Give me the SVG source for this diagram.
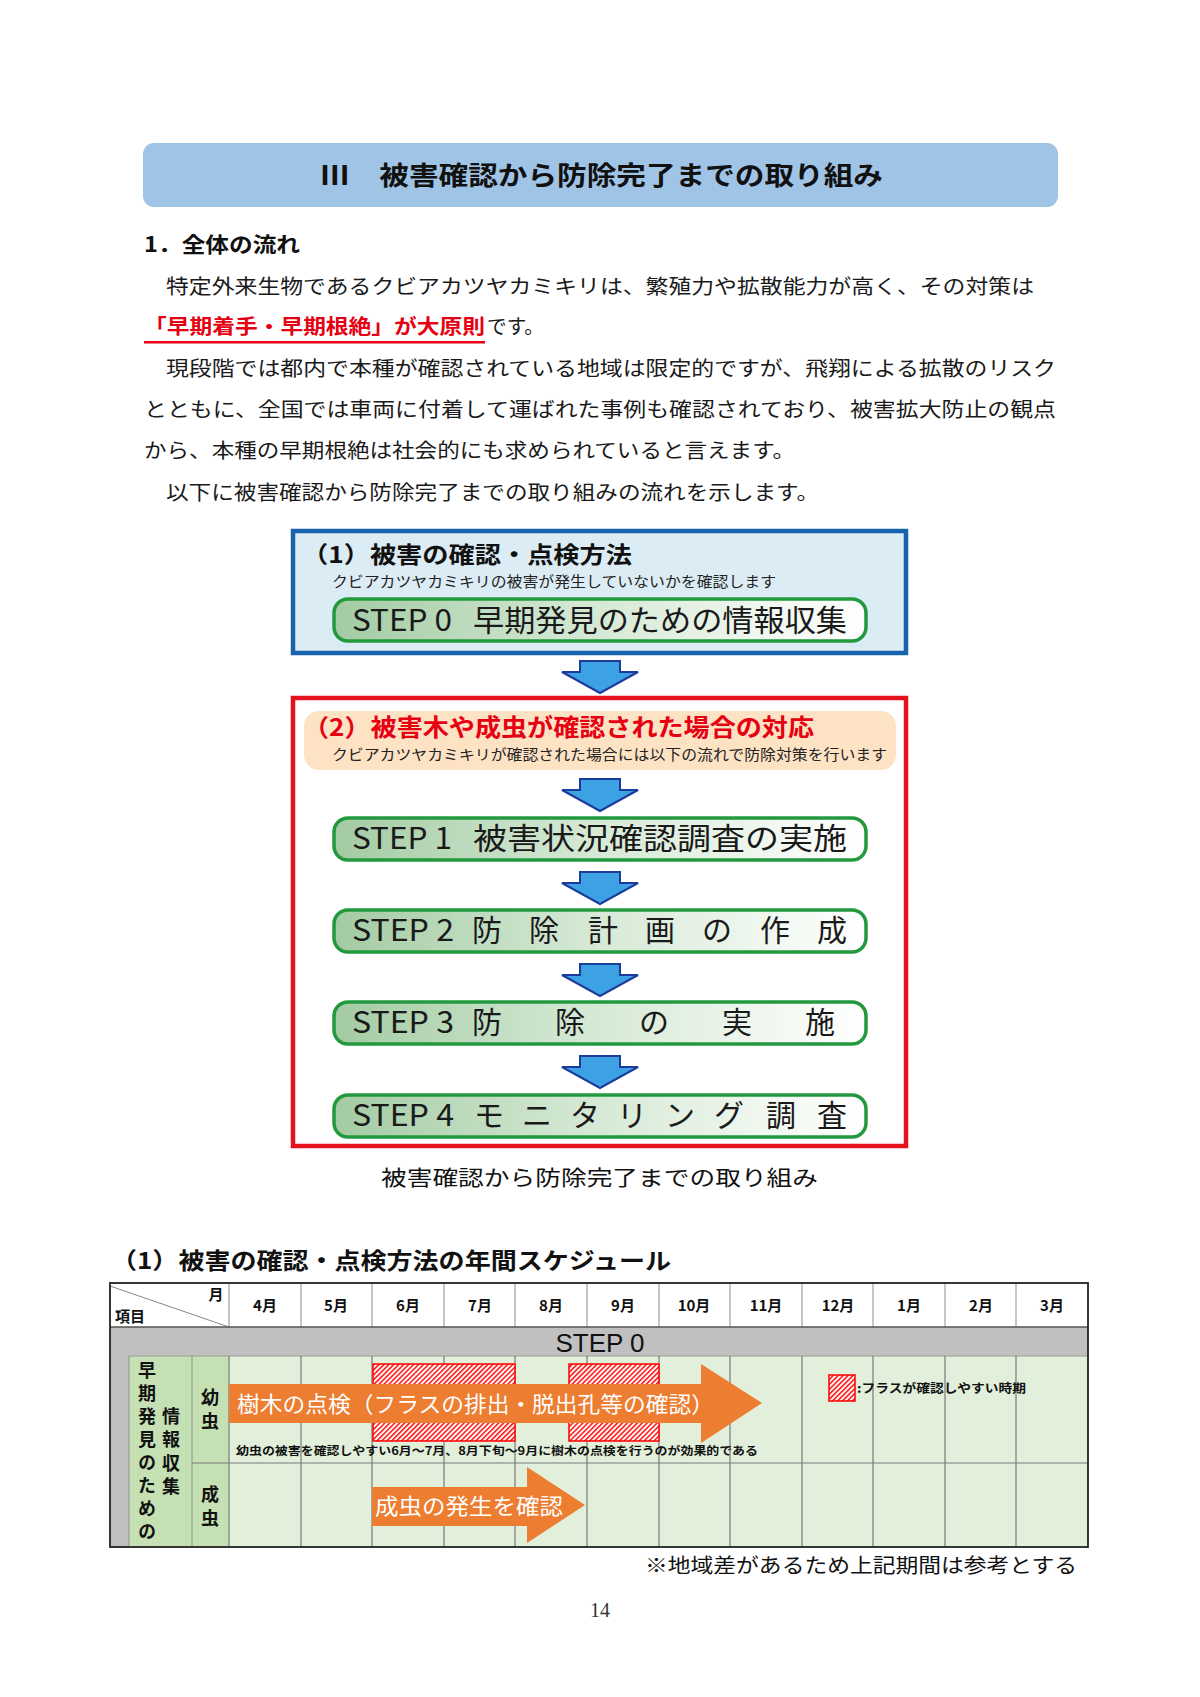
<svg xmlns="http://www.w3.org/2000/svg" width="1200" height="1697" viewBox="0 0 1200 1697">
<style>
.jp{font-family:"Noto Sans CJK JP","Noto Sans",sans-serif;}
.b{font-weight:bold;}
.body{font-size:20px;fill:#1a1a1a;}
.stepbox{fill:url(#stepgrad);stroke:#23993f;stroke-width:3.5;}
.steptxt{font-size:30px;fill:#1a1a1a;}
.barrow{fill:#3da2e4;stroke:#1c3c9c;stroke-width:2;stroke-linejoin:miter;}
.mon{font-size:15px;font-weight:bold;fill:#111;text-anchor:middle;}
.vt{font-size:18px;font-weight:bold;fill:#111;writing-mode:vertical-rl;}
.hgrid{stroke:#a0a0a0;stroke-width:1.2;}
.bgrid{stroke:#7a7a7a;stroke-width:1.2;}
.hatch{fill:url(#hatch);stroke:#ff0000;stroke-width:1.5;}
.orange{fill:#ed7d31;}
</style>
<defs>
<linearGradient id="stepgrad" x1="0" y1="0" x2="1" y2="0">
<stop offset="0" stop-color="#a3cba3"/>
<stop offset="0.45" stop-color="#d2e7d2"/>
<stop offset="0.85" stop-color="#f3f9f3"/>
<stop offset="1" stop-color="#ffffff"/>
</linearGradient>
<pattern id="hatch" patternUnits="userSpaceOnUse" width="3.5" height="3.5" patternTransform="rotate(45)">
<rect width="3.5" height="3.5" fill="#ffffff"/>
<rect width="1.6" height="3.5" fill="#ff1a1a"/>
</pattern>
<polygon id="darrow" class="barrow" points="-20,0 20,0 20,11 38,11 0,32 -38,11 -20,11"/>
</defs>
<rect width="1200" height="1697" fill="#ffffff"/>

<g id="banner">
<rect x="143" y="143" width="915" height="64" rx="11" fill="#a0c4e6"/>
<text class="jp b" x="320" y="185" font-size="26" fill="#111" textLength="563" lengthAdjust="spacingAndGlyphs">Ⅲ　被害確認から防除完了までの取り組み</text>
</g>

<g id="intro">
<text class="jp b" x="144" y="252" font-size="21" fill="#111" textLength="156" lengthAdjust="spacingAndGlyphs">1．全体の流れ</text>
<text class="jp body" x="166" y="294" textLength="868" lengthAdjust="spacingAndGlyphs">特定外来生物であるクビアカツヤカミキリは、繁殖力や拡散能力が高く、その対策は</text>
<text class="jp b" x="144" y="334" font-size="20" fill="#e60012" textLength="341" lengthAdjust="spacingAndGlyphs">「早期着手・早期根絶」が大原則</text>
<text class="jp body" x="487" y="334" textLength="57" lengthAdjust="spacingAndGlyphs">です。</text>
<rect x="144" y="341" width="341" height="2.5" fill="#e60012"/>
<text class="jp body" x="166" y="376" textLength="890" lengthAdjust="spacingAndGlyphs">現段階では都内で本種が確認されている地域は限定的ですが、飛翔による拡散のリスク</text>
<text class="jp body" x="144" y="417" textLength="912" lengthAdjust="spacingAndGlyphs">とともに、全国では車両に付着して運ばれた事例も確認されており、被害拡大防止の観点</text>
<text class="jp body" x="144" y="458" textLength="651" lengthAdjust="spacingAndGlyphs">から、本種の早期根絶は社会的にも求められていると言えます。</text>
<text class="jp body" x="166" y="500" textLength="653" lengthAdjust="spacingAndGlyphs">以下に被害確認から防除完了までの取り組みの流れを示します。</text>
</g>

<g id="box1">
<rect x="293" y="531" width="613" height="122" fill="#dcecf5" stroke="#1763ad" stroke-width="4.5"/>
<text class="jp b" x="302" y="563" font-size="23" fill="#111" textLength="330" lengthAdjust="spacingAndGlyphs">（1）被害の確認・点検方法</text>
<text class="jp" x="332" y="587" font-size="14.5" fill="#222" textLength="444" lengthAdjust="spacingAndGlyphs">クビアカツヤカミキリの被害が発生していないかを確認します</text>
</g>
<g id="step0">
<rect class="stepbox" x="334" y="599" width="532" height="42" rx="14"/>
<text class="jp steptxt" x="352" y="631" textLength="100" lengthAdjust="spacingAndGlyphs">STEP 0</text>
<text class="jp steptxt" x="473" y="631" textLength="374" lengthAdjust="spacingAndGlyphs">早期発見のための情報収集</text>
</g>

<g id="box2">
<rect x="293" y="698" width="613" height="448" fill="#ffffff" stroke="#e3121d" stroke-width="4.5"/>
<rect x="304" y="711" width="592" height="59" rx="15" fill="#fde2c4"/>
<text class="jp b" x="303" y="736" font-size="24" fill="#e60012" textLength="511" lengthAdjust="spacingAndGlyphs">（2）被害木や成虫が確認された場合の対応</text>
<text class="jp" x="332" y="760" font-size="14.5" fill="#222" textLength="555" lengthAdjust="spacingAndGlyphs">クビアカツヤカミキリが確認された場合には以下の流れで防除対策を行います</text>
</g>
<g id="step1">
<rect class="stepbox" x="334" y="818" width="532" height="42" rx="14"/>
<text class="jp steptxt" x="352" y="849" textLength="100" lengthAdjust="spacingAndGlyphs">STEP 1</text>
<text class="jp steptxt" x="473" y="849" textLength="374" lengthAdjust="spacingAndGlyphs">被害状況確認調査の実施</text>
</g>
<g id="step2">
<rect class="stepbox" x="334" y="910" width="532" height="42" rx="14"/>
<text class="jp steptxt" x="352" y="941" textLength="102" lengthAdjust="spacingAndGlyphs">STEP 2</text>
<text class="jp steptxt" x="487 544 603 660 717 775 832" y="941" text-anchor="middle">防除計画の作成</text>
</g>
<g id="step3">
<rect class="stepbox" x="334" y="1002" width="532" height="42" rx="14"/>
<text class="jp steptxt" x="352" y="1033" textLength="102" lengthAdjust="spacingAndGlyphs">STEP 3</text>
<text class="jp steptxt" x="487 570 654 737 820" y="1033" text-anchor="middle">防除の実施</text>
</g>
<g id="step4">
<rect class="stepbox" x="334" y="1095" width="532" height="42" rx="14"/>
<text class="jp steptxt" x="352" y="1126" textLength="102" lengthAdjust="spacingAndGlyphs">STEP 4</text>
<text class="jp steptxt" x="489 537 585 632 680 729 781 832" y="1126" text-anchor="middle">モニタリング調査</text>
</g>

<g id="connectors">
<use href="#darrow" x="600" y="661"/>
<use href="#darrow" x="600" y="779"/>
<use href="#darrow" x="600" y="872"/>
<use href="#darrow" x="600" y="964"/>
<use href="#darrow" x="600" y="1056"/>
</g>

<text class="jp" x="381" y="1185" font-size="21" fill="#111" textLength="437" lengthAdjust="spacingAndGlyphs">被害確認から防除完了までの取り組み</text>

<g id="schedule">
<text class="jp b" x="111" y="1269" font-size="23" fill="#111" textLength="560" lengthAdjust="spacingAndGlyphs">（1）被害の確認・点検方法の年間スケジュール</text>
<!-- header -->
<rect x="110" y="1283" width="978" height="44" fill="#ffffff"/>
<line x1="110" y1="1286" x2="229" y2="1327" stroke="#888" stroke-width="1"/>
<text class="jp b" x="216" y="1300" font-size="15" fill="#111" text-anchor="middle">月</text>
<text class="jp b" x="115" y="1322" font-size="15" fill="#111">項目</text>
<g class="hgrid">
<line x1="229" y1="1283" x2="229" y2="1327"/><line x1="301" y1="1283" x2="301" y2="1327"/><line x1="372" y1="1283" x2="372" y2="1327"/><line x1="444" y1="1283" x2="444" y2="1327"/><line x1="515" y1="1283" x2="515" y2="1327"/><line x1="587" y1="1283" x2="587" y2="1327"/><line x1="659" y1="1283" x2="659" y2="1327"/><line x1="730" y1="1283" x2="730" y2="1327"/><line x1="802" y1="1283" x2="802" y2="1327"/><line x1="873" y1="1283" x2="873" y2="1327"/><line x1="945" y1="1283" x2="945" y2="1327"/><line x1="1016" y1="1283" x2="1016" y2="1327"/>
</g>
<text class="jp mon" x="265" y="1311">4月</text>
<text class="jp mon" x="336" y="1311">5月</text>
<text class="jp mon" x="408" y="1311">6月</text>
<text class="jp mon" x="480" y="1311">7月</text>
<text class="jp mon" x="551" y="1311">8月</text>
<text class="jp mon" x="623" y="1311">9月</text>
<text class="jp mon" x="694" y="1311">10月</text>
<text class="jp mon" x="766" y="1311">11月</text>
<text class="jp mon" x="838" y="1311">12月</text>
<text class="jp mon" x="909" y="1311">1月</text>
<text class="jp mon" x="981" y="1311">2月</text>
<text class="jp mon" x="1052" y="1311">3月</text>
<!-- STEP 0 row -->
<rect x="110" y="1327" width="978" height="220" fill="#c0c0c0"/>
<line x1="110" y1="1327" x2="1088" y2="1327" stroke="#555" stroke-width="1.5"/>
<text x="600" y="1352" font-family="Liberation Sans, Arial, sans-serif" font-size="26" fill="#111" text-anchor="middle">STEP 0</text>
<!-- body -->
<rect x="129" y="1356" width="100" height="191" fill="#c5e0b3"/>
<rect x="229" y="1356" width="859" height="191" fill="#e2efda"/>
<line x1="129" y1="1356" x2="1088" y2="1356" stroke="#999" stroke-width="1.2"/>
<line x1="192" y1="1356" x2="192" y2="1547" stroke="#999" stroke-width="1.2"/>
<line x1="129" y1="1356" x2="129" y2="1547" stroke="#999" stroke-width="1.2"/>
<line x1="192" y1="1463" x2="1088" y2="1463" class="bgrid"/>
<g class="bgrid">
<line x1="229" y1="1356" x2="229" y2="1547"/><line x1="301" y1="1356" x2="301" y2="1547"/><line x1="372" y1="1356" x2="372" y2="1547"/><line x1="444" y1="1356" x2="444" y2="1547"/><line x1="515" y1="1356" x2="515" y2="1547"/><line x1="587" y1="1356" x2="587" y2="1547"/><line x1="659" y1="1356" x2="659" y2="1547"/><line x1="730" y1="1356" x2="730" y2="1547"/><line x1="802" y1="1356" x2="802" y2="1547"/><line x1="873" y1="1356" x2="873" y2="1547"/><line x1="945" y1="1356" x2="945" y2="1547"/><line x1="1016" y1="1356" x2="1016" y2="1547"/>
</g>
<text class="jp vt" x="147" y="1361" letter-spacing="5">早期発見のための</text>
<text class="jp vt" x="171" y="1407" letter-spacing="5.5">情報収集</text>
<text class="jp vt" x="210" y="1388" letter-spacing="6">幼虫</text>
<text class="jp vt" x="210" y="1485" letter-spacing="6">成虫</text>
<!-- hatched periods -->
<rect class="hatch" x="373" y="1364" width="142" height="77"/>
<rect class="hatch" x="569" y="1364" width="90" height="77"/>
<!-- orange arrows -->
<polygon class="orange" points="229,1384 701,1384 701,1364 762,1403 701,1443 701,1423 229,1423"/>
<text class="jp" x="237" y="1412" font-size="22" fill="#ffffff" textLength="477" lengthAdjust="spacingAndGlyphs">樹木の点検（フラスの排出・脱出孔等の確認）</text>
<text class="jp b" x="236" y="1455" font-size="11.5" fill="#111" textLength="522" lengthAdjust="spacingAndGlyphs">幼虫の被害を確認しやすい6月～7月、8月下旬～9月に樹木の点検を行うのが効果的である</text>
<polygon class="orange" points="372,1487 527,1487 527,1467 585,1505 527,1543 527,1526 372,1526"/>
<text class="jp" x="375" y="1514" font-size="22" fill="#ffffff" textLength="188" lengthAdjust="spacingAndGlyphs">成虫の発生を確認</text>
<!-- legend -->
<rect class="hatch" x="829" y="1375" width="26" height="26"/>
<text class="jp b" x="857" y="1393" font-size="12.5" fill="#111" textLength="169" lengthAdjust="spacingAndGlyphs">:フラスが確認しやすい時期</text>
<rect x="110" y="1283" width="978" height="264" fill="none" stroke="#222" stroke-width="1.8"/>
</g>

<text class="jp" x="645" y="1573" font-size="20" fill="#111" textLength="432" lengthAdjust="spacingAndGlyphs">※地域差があるため上記期間は参考とする</text>
<text x="600" y="1617" font-family="Liberation Serif, serif" font-size="20" fill="#333" text-anchor="middle">14</text>
</svg>
